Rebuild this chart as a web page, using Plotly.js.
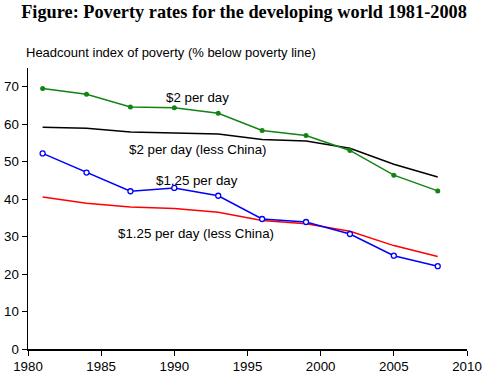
<!DOCTYPE html>
<html>
<head>
<meta charset="utf-8">
<script src="https://cdn.plot.ly/plotly-3.0.1.min.js"></script>
<style>html,body{margin:0;padding:0;background:#fff;}#chart{width:485px;height:377px;}</style>
</head>
<body>
<div id="chart"></div>
<script>
const years = [1981, 1984, 1987, 1990, 1993, 1996, 1999, 2002, 2005, 2008];
const twoDollar = [69.5, 68.0, 64.6, 64.4, 62.9, 58.3, 57.0, 53.0, 46.4, 42.2];
const twoDollarLessChina = [59.2, 58.9, 57.9, 57.6, 57.4, 55.9, 55.5, 53.6, 49.3, 45.9];
const oneTwentyFive = [52.2, 47.1, 42.1, 43.0, 40.9, 34.7, 33.9, 30.7, 24.9, 22.1];
const oneTwentyFiveLessChina = [40.6, 38.9, 37.9, 37.5, 36.5, 34.3, 33.4, 31.4, 27.6, 24.7];
const seriesLabels = ["$2 per day", "$2 per day (less China)", "$1.25 per day", "$1.25 per day (less China)"];
const xTicks = [1980, 1985, 1990, 1995, 2000, 2005, 2010];
const yTicks = [0, 10, 20, 30, 40, 50, 60, 70];

const traces = [
  {x: years, y: twoDollarLessChina, mode: 'lines', line: {color: '#000000', width: 1.5}, name: seriesLabels[1]},
  {x: years, y: oneTwentyFiveLessChina, mode: 'lines', line: {color: '#ff0000', width: 1.5}, name: seriesLabels[3]},
  {x: years, y: twoDollar, mode: 'lines+markers', line: {color: '#138413', width: 1.5},
   marker: {color: '#138413', size: 5, symbol: 'circle'}, name: seriesLabels[0]},
  {x: years, y: oneTwentyFive, mode: 'lines+markers', line: {color: '#0000ff', width: 1.5},
   marker: {color: '#ffffff', size: 5, symbol: 'circle', line: {color: '#0000ff', width: 1.3}}, name: seriesLabels[2]}
];

const lbl = {family: 'Arial, "Liberation Sans", sans-serif', size: 13.3, color: '#000'};
const layout = {
  width: 485, height: 377,
  margin: {l: 28, r: 18, t: 68, b: 28},
  paper_bgcolor: '#fff', plot_bgcolor: '#fff',
  showlegend: false,
  title: {text: '<b>Figure: Poverty rates for the developing world 1981-2008</b>',
          font: {family: '"Liberation Serif", "Times New Roman", serif', size: 18.3, color: '#000'},
          x: 244/485, xref: 'container', xanchor: 'center', y: 1 - 12/377, yref: 'container', yanchor: 'middle'},
  xaxis: {range: [1980, 2010], tickvals: xTicks, ticktext: xTicks.map(String), showgrid: false, zeroline: false,
          showline: true, linecolor: '#000', linewidth: 1.5, ticks: 'outside', ticklen: 5, tickcolor: '#000',
          tickfont: lbl, fixedrange: true},
  yaxis: {range: [0, 75], tickvals: yTicks, ticktext: yTicks.map(String), showgrid: false, zeroline: false,
          showline: true, linecolor: '#000', linewidth: 1.5, ticks: 'outside', ticklen: 5, tickcolor: '#000',
          tickfont: lbl, fixedrange: true},
  annotations: [
    {text: 'Headcount index of poverty (% below poverty line)', xref: 'paper', yref: 'paper',
     x: -4/439, y: 1 + (68.3-53)/280.7, xanchor: 'left', yanchor: 'middle', showarrow: false,
     font: {family: lbl.family, size: 13, color: '#000'}},
    {text: seriesLabels[0], x: 1991.55, y: 67.2, showarrow: false, font: lbl, xanchor: 'center', yanchor: 'middle'},
    {text: seriesLabels[1], x: 1991.55, y: 53.2, showarrow: false, font: lbl, xanchor: 'center', yanchor: 'middle'},
    {text: seriesLabels[2], x: 1991.55, y: 45.0, showarrow: false, font: lbl, xanchor: 'center', yanchor: 'middle'},
    {text: seriesLabels[3], x: 1991.45, y: 30.75, showarrow: false, font: lbl, xanchor: 'center', yanchor: 'middle'}
  ]
};
Plotly.newPlot('chart', traces, layout, {displayModeBar: false, staticPlot: true});
</script>
</body>
</html>
